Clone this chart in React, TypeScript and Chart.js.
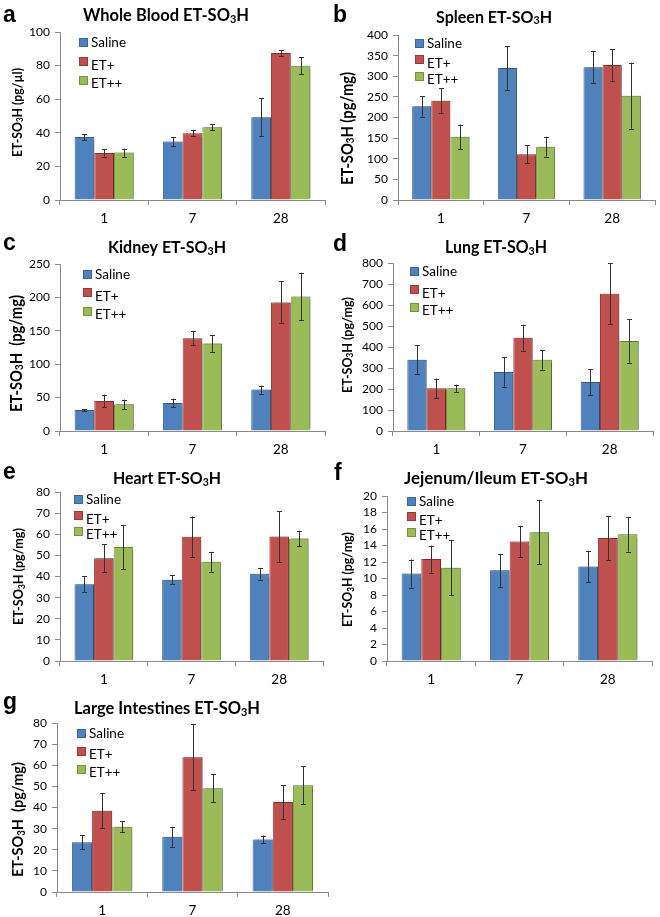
import React, { useEffect, useRef } from 'react';
import { Chart, registerables } from 'chart.js';

Chart.register(...registerables);

// ---------- data ----------
const days = ['1', '7', '28'];
const groups = ['Saline', 'ET+', 'ET++'];

// rows: Saline, ET+, ET++ ; columns: day 1, 7, 28
const bloodMeans = [[37.5, 34.8, 49.3], [28, 39.8, 87.5], [28.2, 43.3, 79.9]];
const bloodErrors = [[1.7, 2.8, 11.4], [2.2, 2, 1.8], [2.4, 1.8, 5]];

const spleenMeans = [[227, 320, 321.6], [240.8, 110.7, 327], [153.5, 129.3, 253]];
const spleenErrors = [[25, 53, 39], [30, 22, 38], [29.5, 24, 80]];

const kidneyMeans = [[31.5, 42, 62], [45, 139, 192.5], [40, 131, 201.5]];
const kidneyErrors = [[1, 6.5, 6], [9.5, 11, 31.5], [7, 12.5, 35.5]];

const lungMeans = [[339.7, 281, 233], [203, 444, 654], [203, 339.7, 428.6]];
const lungErrors = [[68, 70, 61], [47, 62, 145], [18, 47, 104]];

const heartMeans = [[36.3, 38.5, 41.3], [48.6, 58.8, 58.9], [54, 47, 58]];
const heartErrors = [[3.8, 2.1, 2.8], [6.6, 9.6, 12], [10.4, 4.7, 3.7]];

const jejunumMeans = [[10.6, 11, 11.45], [12.35, 14.5, 14.9], [11.3, 15.6, 15.35]];
const jejunumErrors = [[1.7, 2, 1.9], [1.65, 1.9, 2.65], [3.35, 3.9, 2.1]];

const intestineMeans = [[23.6, 26.1, 24.9], [38.5, 63.8, 42.6], [30.9, 49.1, 50.5]];
const intestineErrors = [[3.4, 4.8, 1.8], [8.4, 15.6, 8], [2.7, 6.6, 9]];

// ---------- styles ----------
const FILL = ['#4F81BD', '#C0504D', '#9BBB59'];
const EDGE = ['#3B6594', '#953B39', '#76923F'];
const AXIS = '#8a8a8a';
const FONT = 'Lato, "Open Sans", sans-serif';

type Cfg = {
  letter: string; title: string; unit: string;
  means: number[][]; errors: number[][];
  max: number; step: number;
  box: { x: number; y: number; w: number; h: number };
  area: { l: number; t: number; r: number; b: number };
  letterPos: [number, number];
  titlePos: [number, number, number];
  ylab: [number, number, number];
  legend: [number, number, number];
};

const panels: Cfg[] = [
  {
    letter: 'a', title: 'Whole Blood ET-SO₃H', unit: 'ET-SO₃H (pg/µl)',
    means: bloodMeans, errors: bloodErrors, max: 100, step: 20,
    box: { x: 0, y: 0, w: 330, h: 232 }, area: { l: 60, t: 32, r: 325, b: 200 },
    letterPos: [3, 22], titlePos: [166, 21, 166], ylab: [17, 112.5, 89], legend: [79, 42.5, 18.75],
  },
  {
    letter: 'b', title: 'Spleen ET-SO₃H', unit: 'ET-SO₃H (pg/mg)',
    means: spleenMeans, errors: spleenErrors, max: 400, step: 50,
    box: { x: 330, y: 0, w: 330, h: 232 }, area: { l: 398, t: 35, r: 655, b: 200 },
    letterPos: [333, 22], titlePos: [494, 22.5, 116], ylab: [347, 128.5, 113], legend: [415, 43, 16.5],
  },
  {
    letter: 'c', title: 'Kidney ET-SO₃H', unit: 'ET-SO₃H  (pg/mg)',
    means: kidneyMeans, errors: kidneyErrors, max: 250, step: 50,
    box: { x: 0, y: 220, w: 330, h: 242 }, area: { l: 60, t: 264, r: 325, b: 431 },
    letterPos: [3, 250], titlePos: [167, 253, 118], ylab: [16, 353.5, 117], legend: [83, 274, 18.75],
  },
  {
    letter: 'd', title: 'Lung ET-SO₃H', unit: 'ET-SO₃H (pg/mg)',
    means: lungMeans, errors: lungErrors, max: 800, step: 100,
    box: { x: 330, y: 220, w: 330, h: 242 }, area: { l: 393, t: 263, r: 653, b: 431 },
    letterPos: [333, 250.5], titlePos: [496, 253, 102], ylab: [347, 345, 96], legend: [410, 271.5, 18],
  },
  {
    letter: 'e', title: 'Heart ET-SO₃H', unit: 'ET-SO₃H (pg/mg)',
    means: heartMeans, errors: heartErrors, max: 80, step: 10,
    box: { x: 0, y: 450, w: 330, h: 242 }, area: { l: 60, t: 492, r: 323, b: 661 },
    letterPos: [3, 479], titlePos: [167, 484, 108], ylab: [18.5, 576.5, 97], legend: [74, 499, 16.25],
  },
  {
    letter: 'f', title: 'Jejenum/Ileum ET-SO₃H', unit: 'ET-SO₃H (pg/mg)',
    means: jejunumMeans, errors: jejunumErrors, max: 20, step: 2,
    box: { x: 330, y: 450, w: 330, h: 242 }, area: { l: 387, t: 496, r: 652, b: 661 },
    letterPos: [334, 480], titlePos: [496, 484, 184], ylab: [347.5, 579.5, 95], legend: [407, 501, 15.75],
  },
  {
    letter: 'g', title: 'Large Intestines ET-SO₃H', unit: 'ET-SO₃H  (pg/mg)',
    means: intestineMeans, errors: intestineErrors, max: 80, step: 10,
    box: { x: 0, y: 680, w: 330, h: 237 }, area: { l: 57, t: 723, r: 328, b: 892 },
    letterPos: [3, 709], titlePos: [167, 714, 186], ylab: [17.5, 819.5, 115], legend: [77, 733, 18],
  },
];

// draw text where '₃' is rendered as a lowered small "3"
function chemWidth(ctx: CanvasRenderingContext2D, text: string, size: number, weight: string) {
  const parts = text.split('₃');
  ctx.font = `${weight} ${size}px ${FONT}`;
  let w = 0;
  parts.forEach((p) => (w += ctx.measureText(p).width));
  ctx.font = `${weight} ${size * 0.66}px ${FONT}`;
  w += (parts.length - 1) * ctx.measureText('3').width;
  return w;
}
// centred at (x, y baseline), font enlarged by `grow` then squeezed horizontally to `target` width
function drawChem(ctx: CanvasRenderingContext2D, text: string, x: number, y: number, target: number, grow: number) {
  const weight = 'bold';
  const base = 20;
  const fit = (base * target) / chemWidth(ctx, text, base, weight);
  const size = fit * grow;
  const total = chemWidth(ctx, text, size, weight);
  const sx = target / total;
  const parts = text.split('₃');
  ctx.save();
  ctx.translate(x - target / 2, y);
  ctx.scale(sx, 1);
  ctx.textAlign = 'left';
  ctx.textBaseline = 'alphabetic';
  let cx = 0;
  parts.forEach((p, i) => {
    ctx.font = `${weight} ${size}px ${FONT}`;
    ctx.fillText(p, cx, 0);
    cx += ctx.measureText(p).width;
    if (i < parts.length - 1) {
      ctx.font = `${weight} ${size * 0.66}px ${FONT}`;
      ctx.fillText('3', cx, size * 0.1);
      cx += ctx.measureText('3').width;
    }
  });
  ctx.restore();
  return size;
}

function Panel({ cfg }: { cfg: Cfg }) {
  const ref = useRef<HTMLCanvasElement | null>(null);
  useEffect(() => {
    const canvas = ref.current;
    if (!canvas) return;
    const { box, area } = cfg;
    const decor = {
      id: 'decor',
      beforeDatasetsDraw(chart: any) {
        const ctx = chart.ctx;
        ctx.save();
        ctx.shadowColor = 'rgba(0,0,0,0.28)';
        ctx.shadowOffsetX = 2;
        ctx.shadowOffsetY = -1;
        ctx.shadowBlur = 1.5;
      },
      afterDatasetsDraw(chart: any) {
        const ctx: CanvasRenderingContext2D = chart.ctx;
        ctx.restore();
        const ys = chart.scales.y;
        ctx.save();
        ctx.strokeStyle = '#333333';
        ctx.lineWidth = 1;
        cfg.means.forEach((row, i) => {
          const meta = chart.getDatasetMeta(i);
          row.forEach((m, j) => {
            const el = meta.data[j];
            const e = cfg.errors[i][j];
            const x = Math.round(el.x) + 0.5;
            const y1 = ys.getPixelForValue(m + e);
            const y2 = ys.getPixelForValue(m - e);
            ctx.beginPath();
            ctx.moveTo(x, y1);
            ctx.lineTo(x, y2);
            ctx.moveTo(x - 2.5, Math.round(y1) + 0.5);
            ctx.lineTo(x + 2.5, Math.round(y1) + 0.5);
            ctx.moveTo(x - 2.5, Math.round(y2) + 0.5);
            ctx.lineTo(x + 2.5, Math.round(y2) + 0.5);
            ctx.stroke();
          });
        });
        ctx.restore();
      },
      afterDraw(chart: any) {
        const ctx: CanvasRenderingContext2D = chart.ctx;
        const ox = box.x, oy = box.y;
        ctx.save();
        ctx.fillStyle = '#000';
        // panel letter
        ctx.font = 'bold 23px "Liberation Sans", Arial, sans-serif';
        ctx.textAlign = 'left';
        ctx.textBaseline = 'alphabetic';
        ctx.fillText(cfg.letter, cfg.letterPos[0] - ox, cfg.letterPos[1] - oy);
        // title
        drawChem(ctx, cfg.title, cfg.titlePos[0] - ox, cfg.titlePos[1] - oy, cfg.titlePos[2], 1.06);
        // y label (rotated)
        ctx.save();
        ctx.translate(cfg.ylab[0] - ox, cfg.ylab[1] - oy);
        ctx.rotate(-Math.PI / 2);
        const approx = (20 * cfg.ylab[2]) / chemWidth(ctx, cfg.unit, 20, 'bold') * 1.1;
        drawChem(ctx, cfg.unit, 0, approx * 0.36, cfg.ylab[2], 1.1);
        ctx.restore();
        // legend
        const [lx, ly, gap] = cfg.legend;
        const textShift = [0.5, 4, 3.5];
        groups.forEach((g, i) => {
          const cy = ly + i * gap - oy;
          const bx = lx - ox;
          ctx.fillStyle = FILL[i];
          ctx.fillRect(bx, Math.round(cy - 4.5), 9, 9);
          ctx.strokeStyle = EDGE[i];
          ctx.lineWidth = 1;
          ctx.strokeRect(bx + 0.5, Math.round(cy - 4.5) + 0.5, 8, 8);
          ctx.fillStyle = '#000';
          ctx.font = `13.5px ${FONT}`;
          ctx.textAlign = 'left';
          ctx.textBaseline = 'middle';
          ctx.fillText(g, bx + 12, cy + textShift[i]);
        });
        ctx.restore();
      },
    };
    const chart = new Chart(canvas, {
      type: 'bar',
      data: {
        labels: days,
        datasets: groups.map((g, i) => ({
          label: g,
          data: cfg.means[i],
          backgroundColor: FILL[i],
          borderColor: EDGE[i],
          borderWidth: 1,
          categoryPercentage: 0.67,
          barPercentage: 1,
        })),
      },
      options: {
        animation: false,
        responsive: false,
        maintainAspectRatio: false,
        devicePixelRatio: 1,
        layout: {
          padding: { top: area.t - box.y, right: box.x + box.w - area.r, left: 0, bottom: 0 },
        },
        plugins: {
          legend: { display: false },
          title: { display: false },
          tooltip: { enabled: false },
        },
        scales: {
          x: {
            grid: { display: true, offset: true, drawOnChartArea: false, drawTicks: true, tickLength: 5, color: AXIS },
            border: { display: true, color: AXIS, width: 1 },
            ticks: { color: '#000', font: { family: FONT, size: 13.5 }, padding: 5.5, autoSkip: false, maxRotation: 0 },
            afterFit: (s: any) => { s.height = box.y + box.h - area.b; },
          },
          y: {
            min: 0,
            max: cfg.max,
            grid: { display: true, drawOnChartArea: false, drawTicks: true, tickLength: 5, color: AXIS },
            border: { display: true, color: AXIS, width: 1 },
            ticks: { stepSize: cfg.step, color: '#000', font: { family: FONT, size: 12 }, padding: 5, autoSkip: false },
            afterFit: (s: any) => { s.width = area.l - box.x; },
          },
        },
      },
      plugins: [decor],
    } as any);
    return () => chart.destroy();
  }, [cfg]);
  return (
    <canvas
      ref={ref}
      width={cfg.box.w}
      height={cfg.box.h}
      style={{ position: 'absolute', left: cfg.box.x, top: cfg.box.y, width: cfg.box.w, height: cfg.box.h }}
    />
  );
}

export default function App() {
  return (
    <div style={{ position: 'absolute', left: 0, top: 0, width: 660, height: 917, background: '#fff', overflow: 'hidden' }}>
      {panels.map((p) => (
        <Panel key={p.letter} cfg={p} />
      ))}
    </div>
  );
}
